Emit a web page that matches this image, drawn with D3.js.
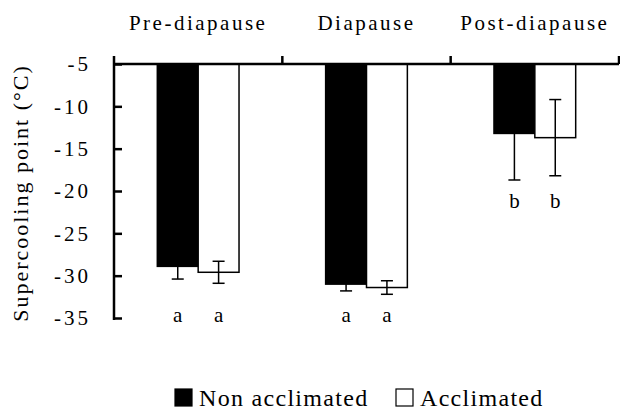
<!DOCTYPE html>
<html lang="en">
  <head>
    <meta charset="utf-8">
    <title>Supercooling point</title>
    <script type="text/javascript" src="https://d3js.org/d3.v7.min.js"></script>
    <style type="text/css">
    body {
      margin: 0;
      background: white;
    }
    svg text {
      font-family: "Liberation Serif", Tinos, "Times New Roman", Times, "DejaVu Serif", serif;
      fill: black;
    }
    .axisl path,
    .axisl line {
      stroke: black;
      stroke-width: 2.5px;
    }
    .axisl text {
      font-size: 21px;
      letter-spacing: 3px;
    }
    .cat {
      font-size: 21px;
      letter-spacing: 2.5px;
    }
    .ylabel {
      font-size: 22px;
      letter-spacing: 2px;
    }
    .legend {
      font-size: 24px;
      letter-spacing: 1.3px;
    }
    .sig {
      font-size: 21px;
    }
    </style>
  </head>
  <body>
    <svg width="620" height="414" id="svg1"></svg>

    <script type="text/javascript">

// data
    const categories = ["Pre-diapause", "Diapause", "Post-diapause"];
    const series = ["Non acclimated", "Acclimated"];
    const nonAcclimated = [-28.9, -31.0, -13.2];
    const nonAcclimatedErr = [1.5, 0.8, 5.5];
    const acclimated = [-29.6, -31.4, -13.7];
    const acclimatedErr = [1.3, 0.8, 4.5];
    const letters = ["a", "a", "b"];
    const yTicks = [-5, -10, -15, -20, -25, -30, -35];

    const rows = [];
    categories.forEach((c, i) => {
      rows.push({cat: c, s: series[0], v: nonAcclimated[i], e: nonAcclimatedErr[i], letter: letters[i]});
      rows.push({cat: c, s: series[1], v: acclimated[i], e: acclimatedErr[i], letter: letters[i]});
    });

    const plotL = 114, plotR = 619, plotT = 64, plotB = 318;

    const xScale = d3.scaleBand()
        .domain(categories)
        .range([plotL, plotR]);

    const xSub = d3.scaleBand()
        .domain(series)
        .range([0, xScale.bandwidth()])
        .paddingInner(0)
        .paddingOuter(1.06);

    const yScale = d3.scaleLinear()
        .domain([-5, -35])
        .range([plotT, plotB]);

    const svg = d3.select("#svg1");

    // bars
    svg.selectAll("rect.bar")
        .data(rows)
        .enter()
        .append("rect")
        .attr("class", "bar")
        .attr("x", d => xScale(d.cat) + xSub(d.s))
        .attr("y", yScale(-5))
        .attr("width", xSub.bandwidth())
        .attr("height", d => yScale(d.v) - yScale(-5))
        .attr("fill", d => d.s == series[0] ? "black" : "white")
        .attr("stroke", "black")
        .attr("stroke-width", 1.5);

    // error bars
    const cx = d => xScale(d.cat) + xSub(d.s) + xSub.bandwidth() / 2;
    const err = svg.append("g")
        .attr("stroke", "black")
        .attr("stroke-width", 1.5);

    err.selectAll("line.stem")
        .data(rows)
        .enter()
        .append("line")
        .attr("x1", cx)
        .attr("x2", cx)
        .attr("y1", d => yScale(d.v + d.e))
        .attr("y2", d => yScale(d.v - d.e));

    err.selectAll("line.caplo")
        .data(rows)
        .enter()
        .append("line")
        .attr("x1", d => cx(d) - 6)
        .attr("x2", d => cx(d) + 6)
        .attr("y1", d => yScale(d.v - d.e))
        .attr("y2", d => yScale(d.v - d.e));

    err.selectAll("line.caphi")
        .data(rows)
        .enter()
        .append("line")
        .attr("x1", d => cx(d) - 6)
        .attr("x2", d => cx(d) + 6)
        .attr("y1", d => yScale(d.v + d.e))
        .attr("y2", d => yScale(d.v + d.e));

    // significance letters
    const groupMin = c => d3.min(rows.filter(r => r.cat == c), r => r.v - r.e);
    svg.selectAll("text.sig")
        .data(rows)
        .enter()
        .append("text")
        .attr("class", "sig")
        .attr("text-anchor", "middle")
        .attr("x", cx)
        .attr("y", d => groupMin(d.cat) < -25 ? yScale(-35) + 4 : yScale(groupMin(d.cat)) + 28)
        .text(d => d.letter);

    // left axis, ticks pointing inward
    const leftAxis = d3.axisLeft()
        .scale(yScale)
        .tickValues(yTicks)
        .tickSizeInner(-8)
        .tickSizeOuter(0)
        .tickPadding(23)
        .tickFormat(d => d);

    const gLeft = svg.append("g")
        .attr("class", "axisl")
        .attr("transform", "translate(" + plotL + ",0)")
        .call(leftAxis);
    gLeft.attr("font-family", null);
    gLeft.select(".domain")
        .attr("d", "M0," + (plotT - 8) + "V" + (plotB + 2));

    // top axis line with category boundary ticks
    svg.append("line")
        .attr("x1", plotL)
        .attr("x2", plotR)
        .attr("y1", plotT)
        .attr("y2", plotT)
        .attr("stroke", "black")
        .attr("stroke-width", 2.5);

    svg.selectAll("line.bound")
        .data(categories)
        .enter()
        .append("line")
        .attr("x1", d => xScale(d) + xScale.bandwidth())
        .attr("x2", d => xScale(d) + xScale.bandwidth())
        .attr("y1", plotT)
        .attr("y2", plotT - 8)
        .attr("stroke", "black")
        .attr("stroke-width", 2.5);

    svg.selectAll("text.cat")
        .data(categories)
        .enter()
        .append("text")
        .attr("class", "cat")
        .attr("text-anchor", "middle")
        .attr("x", d => xScale(d) + xScale.bandwidth() / 2)
        .attr("y", 30)
        .text(d => d);

    svg.append("text")
        .attr("class", "ylabel")
        .attr("text-anchor", "middle")
        .attr("transform", "translate(28,193) rotate(-90)")
        .text("Supercooling point (°C)");

    // legend
    const legendX = [175, 396];
    const legend = svg.selectAll("g.leg")
        .data(series)
        .enter()
        .append("g")
        .attr("transform", (d, i) => "translate(" + legendX[i] + ",389)");

    legend.append("rect")
        .attr("width", 17)
        .attr("height", 17)
        .attr("fill", (d, i) => i == 0 ? "black" : "white")
        .attr("stroke", "black")
        .attr("stroke-width", 1.2);

    legend.append("text")
        .attr("class", "legend")
        .attr("x", 24)
        .attr("y", 17)
        .text(d => d);

    </script>
  </body>
</html>
